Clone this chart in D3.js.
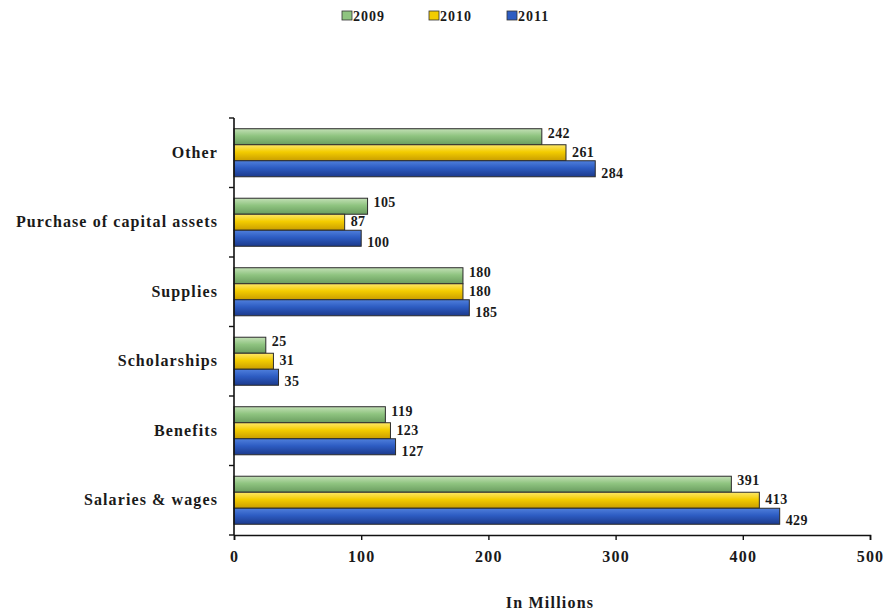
<!DOCTYPE html>
<html>
<head>
<meta charset="utf-8">
<script src="https://cdn.jsdelivr.net/npm/d3@7"></script>
<style>
  body { margin: 0; background: #fff; }
  svg text { font-family: "Liberation Serif", "Times New Roman", serif; font-weight: bold; fill: #1a1a1a; }
</style>
</head>
<body>
<svg id="chart" width="888" height="613"></svg>
<script>
// Expense categories, listed top to bottom
const categories = ["Other", "Purchase of capital assets", "Supplies", "Scholarships", "Benefits", "Salaries & wages"];
const years = ["2009", "2010", "2011"];
const values2009 = [242, 105, 180, 25, 119, 391];
const values2010 = [261, 87, 180, 31, 123, 413];
const values2011 = [284, 100, 185, 35, 127, 429];
const xTicks = [0, 100, 200, 300, 400, 500];

const seriesValues = [values2009, values2010, values2011];
const palette = {
  "2009": ["#c3e0b6", "#8fc480", "#6a9c5f"],
  "2010": ["#fde86a", "#f3cc00", "#c99d00"],
  "2011": ["#4f7fdc", "#2d5cc2", "#1c3a8c"]
};
// value labels sit slightly spread apart vertically
const labelShift = [-4, -1, 4];

const svg = d3.select("#chart");
const margin = { top: 118, right: 18, bottom: 78, left: 234 };
const width = 888 - margin.left - margin.right;
const height = 613 - margin.top - margin.bottom;

// Vertical gradients give each bar its shaded look
const defs = svg.append("defs");
years.forEach(yr => {
  const g = defs.append("linearGradient").attr("id", "grad" + yr)
    .attr("x1", 0).attr("y1", 0).attr("x2", 0).attr("y2", 1);
  g.append("stop").attr("offset", "0%").attr("stop-color", palette[yr][0]);
  g.append("stop").attr("offset", "45%").attr("stop-color", palette[yr][1]);
  g.append("stop").attr("offset", "100%").attr("stop-color", palette[yr][2]);
});

const x = d3.scaleLinear().domain([0, 500]).range([0, width]);
const y = d3.scaleBand().domain(categories).range([0, height]).padding(0);
const ySub = d3.scaleBand().domain(years).range([0, y.bandwidth()]).paddingInner(0).paddingOuter(0.67);

const g = svg.append("g").attr("transform", `translate(${margin.left},${margin.top})`);

// Bars
const groups = g.selectAll(".grp").data(categories).join("g")
  .attr("class", "grp")
  .attr("transform", d => `translate(0,${y(d)})`);

years.forEach((yr, si) => {
  groups.append("rect")
    .attr("x", 0)
    .attr("y", ySub(yr))
    .attr("width", (d, i) => x(seriesValues[si][i]))
    .attr("height", ySub.bandwidth())
    .attr("fill", `url(#grad${yr})`)
    .attr("stroke", "#2b2b2b")
    .attr("stroke-width", 1);

  groups.append("text")
    .attr("x", (d, i) => x(seriesValues[si][i]) + 6)
    .attr("y", ySub(yr) + ySub.bandwidth() / 2 + 5 + labelShift[si])
    .attr("font-size", 14)
    .attr("letter-spacing", 0.4)
    .text((d, i) => seriesValues[si][i]);
});

// X axis
const xAxis = g.append("g").attr("transform", `translate(0,${height})`)
  .call(d3.axisBottom(x).tickValues(xTicks).tickSize(5).tickPadding(11));
xAxis.select(".domain").attr("stroke", "#111").attr("stroke-width", 1.6);
xAxis.selectAll(".tick line").attr("stroke", "#111").attr("stroke-width", 1.4);
xAxis.selectAll("text").attr("font-size", 16).attr("letter-spacing", 1.2)
  .attr("font-family", "Liberation Serif, serif").attr("font-weight", "bold").attr("fill", "#1a1a1a");

// Y axis line with ticks at category boundaries
g.append("line").attr("x1", 0).attr("x2", 0).attr("y1", 0).attr("y2", height)
  .attr("stroke", "#111").attr("stroke-width", 1.6);
const bounds = categories.map(c => y(c)).concat([height]);
g.selectAll(".ytick").data(bounds).join("line")
  .attr("x1", -5).attr("x2", 0)
  .attr("y1", d => d).attr("y2", d => d)
  .attr("stroke", "#111").attr("stroke-width", 1.4);

// Category labels
g.selectAll(".cat").data(categories).join("text")
  .attr("x", -16)
  .attr("y", d => y(d) + y.bandwidth() / 2 + 5)
  .attr("text-anchor", "end")
  .attr("font-size", 16)
  .attr("letter-spacing", 1.1)
  .text(d => d);

// Axis title
svg.append("text")
  .attr("x", 550).attr("y", 608)
  .attr("text-anchor", "middle")
  .attr("font-size", 16)
  .attr("letter-spacing", 1.2)
  .text("In Millions");

// Legend
const legendX = [342, 429, 507];
const legend = svg.selectAll(".leg").data(years).join("g")
  .attr("transform", (d, i) => `translate(${legendX[i]},11)`);
legend.append("rect").attr("width", 10).attr("height", 9)
  .attr("fill", d => palette[d][1]).attr("stroke", "#333").attr("stroke-width", 0.8);
legend.append("text").attr("x", 11).attr("y", 9.5).attr("font-size", 14)
  .attr("letter-spacing", 1).text(d => d);
</script>
</body>
</html>
